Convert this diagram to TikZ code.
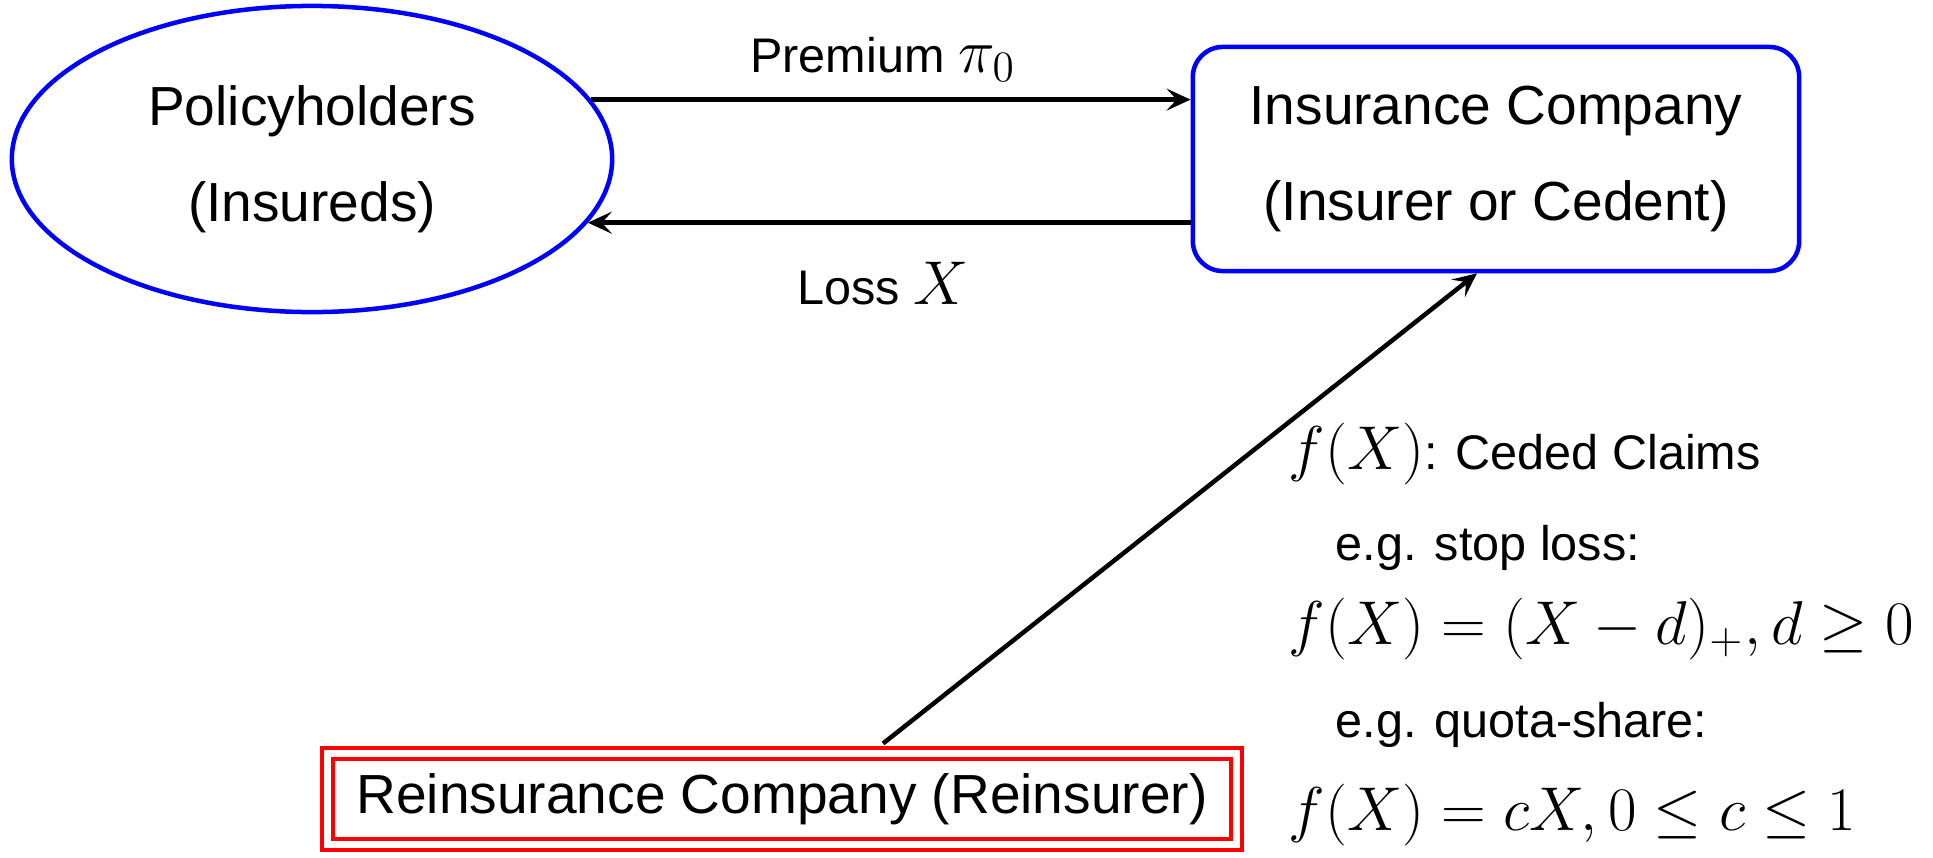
\RequirePackage{fix-cm}
\documentclass[tikz,border=0pt]{standalone}
\usepackage[no-math]{fontspec}
\setmainfont[Scale=0.89]{Liberation Sans}
\newfontfamily\lblfont[Scale=0.785]{Liberation Sans}
\usetikzlibrary{shapes.geometric,arrows.meta}
\begin{document}
\begin{tikzpicture}[x=0.01cm,y=-0.01cm,
  every node/.style={font=\fontsize{17.6}{27.3}\selectfont},
  pnode/.style={ellipse, draw=blue, line width=0.045cm, minimum width=6cm, minimum height=3.06cm, align=center, inner sep=0pt},
  inode/.style={rectangle, rounded corners=0.3cm, draw=blue, line width=0.045cm, minimum width=6.06cm, minimum height=2.24cm, align=center},
  rnode/.style={rectangle, draw=red, double=white, line width=0.04cm, double distance=0.07cm, minimum width=9.09cm, minimum height=0.91cm},
  flow/.style={line width=0.045cm, -{Stealth[length=0.24cm,width=0.22cm,inset=0.1cm]}},
  lbl/.style={anchor=base west, inner sep=0pt, font=\fontsize{17.6}{27.3}\selectfont\lblfont},
  albl/.style={anchor=base, inner sep=0pt, font=\fontsize{17.6}{27.3}\selectfont\lblfont},
]
\useasboundingbox (0,0) rectangle (1933,857);
\node[pnode] (pol) at (312,159) {Policyholders\\(Insureds)};
\node[inode] (ins) at (1496,159) {Insurance Company\\(Insurer or Cedent)};
\node[rnode] (rei) at (782,799) {Reinsurance Company (Reinsurer)};

\draw[flow] (pol.12.75) -- (pol.12.75 -| ins.west)
  node[albl, midway, xshift=-0.08cm, yshift=0.27cm] (prem) {Premium $\pi_0$};
\draw[flow] (pol.-13.15 -| ins.west) -- (pol.-13.15)
  node[albl, midway, xshift=-0.06cm, yshift=-0.82cm] (loss) {Loss $X$};

\coordinate (ds) at ([xshift=1.01cm,yshift=0.08cm]rei.north);
\draw[flow] (ds) -- ([xshift=-0.19cm]ins.south);

\node[lbl] (t1) at (1288,469) {$f(X)$: Ceded Claims};
\node[lbl] (t2) at (1335,560) {e.g. stop loss:};
\node[lbl] (t3) at (1288,644) {$f(X)=(X-d)_+, d\geq 0$};
\node[lbl] (t4) at (1335,737) {e.g. quota-share:};
\node[lbl] (t5) at (1288,830) {$f(X)=cX, 0\leq c\leq 1$};
\end{tikzpicture}
\end{document}
